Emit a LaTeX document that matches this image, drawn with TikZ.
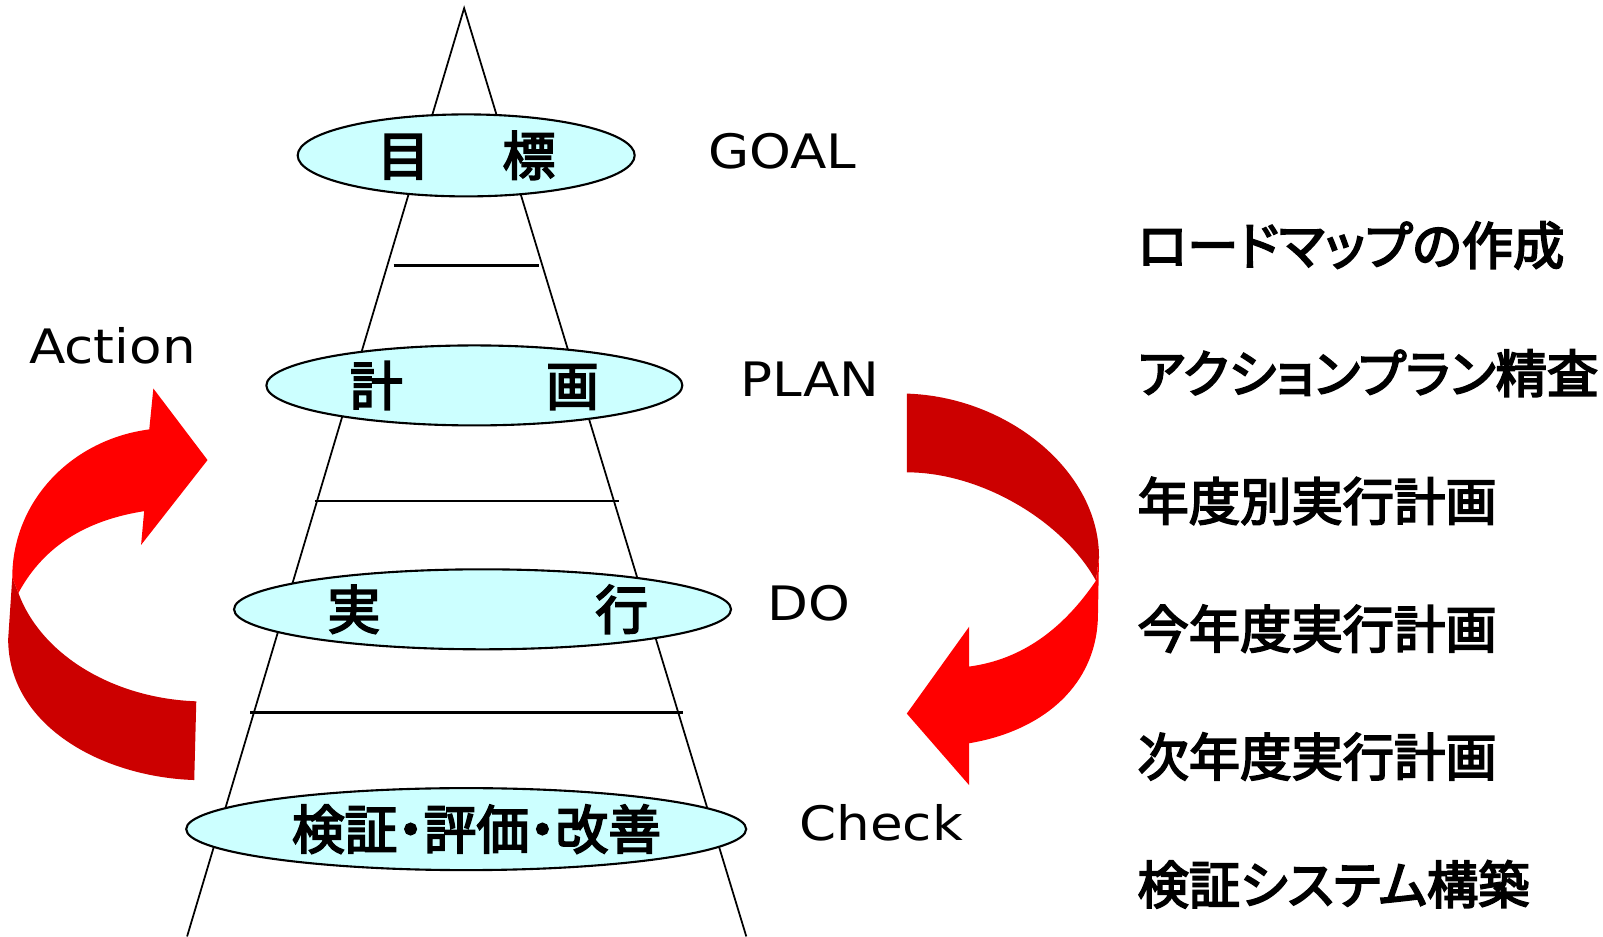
\documentclass[tikz,border=0pt]{standalone}
\usepackage{fontspec}
\newfontfamily\jpfont{Noto Sans CJK JP}[RawFeature=+palt, FakeBold=3.5]
\newfontfamily\pdcafont{DejaVu Sans}[FakeStretch=1.12]
\usetikzlibrary{shapes.geometric}
\definecolor{stagecyan}{RGB}{204,255,255}
\definecolor{cyclered}{RGB}{255,0,0}
\definecolor{cycledark}{RGB}{204,0,0}

\begin{document}
\begin{tikzpicture}[x=0.01022cm, y=-0.01022cm,
  stage/.style={ellipse, draw, line width=0.6pt, fill=stagecyan, inner sep=0pt,
    font=\fontsize{15}{17}\selectfont\jpfont},
  pdca/.style={font=\fontsize{13.5}{15}\selectfont\pdcafont},
  step item/.style={anchor=west, inner sep=0pt, font=\fontsize{14.6}{16}\selectfont\jpfont}]
\useasboundingbox (0,0) rectangle (1568,916);

\coordinate (apex) at (454,8);
\coordinate (baseL) at (183,916);
\coordinate (baseR) at (730,916);
\draw [line width=0.5pt] (baseL) -- (apex) -- (baseR);
\draw [line width=0.8pt] (385,260) -- (527,260);
\draw [line width=0.8pt] (308,490) -- (605,490);
\draw [line width=0.8pt] (245,697) -- (668,697);

\node [stage, minimum width=3.37cm, minimum height=0.82cm] (goal) at (456,152) {目\hspace{1.38em}標\hspace{0.37em}};
\node [stage, minimum width=4.16cm, minimum height=0.80cm] (plan) at (464,377) {計\hspace{2.72em}画};
\node [stage, minimum width=4.97cm, minimum height=0.80cm] (do) at (472,596) {\hspace{0.2em}実\hspace{4.08em}行};
\node [stage, minimum width=5.60cm, minimum height=0.82cm] (check) at (456,811) {\hspace{0.39em}検証・評価・改善};

\node [pdca] (goaltext) at (765,148) {GOAL};
\node [pdca] (plantext) at (792,371) {PLAN};
\node [pdca] (dotext) at (791,590) {DO};
\node [pdca] (checktext) at (862,805) {Check};
\node [pdca] (actiontext) at (110,338) {Action};

\fill [cycledark] (12,565) -- (8,625) .. controls (8,710) and (100,760) .. (190,763)
  -- (192,686) .. controls (110,683) and (40,640) .. (18,580) -- cycle;
\fill [cyclered] (18,580) .. controls (45,530) and (90,508) .. (141,500) -- (138,533)
  -- (203,450) -- (150,380) -- (146,420) .. controls (70,430) and (12,490) .. (12,565) -- cycle;

\fill [cycledark] (887,385) .. controls (985,388) and (1075,460) .. (1075,545)
  -- (1072,568) .. controls (1040,510) and (960,462) .. (887,462) -- cycle;
\fill [cyclered] (1072,568) .. controls (1040,615) and (1000,645) .. (948,652) -- (948,613)
  -- (887,698) -- (948,768) -- (948,727) .. controls (1020,715) and (1074,670) .. (1074,600)
  -- (1075,545) -- cycle;

\node [step item] (roadmap) at (1112,240) {ロードマップの作成};
\node [step item] (review) at (1112,365) {アクションプラン精査};
\node [step item] (yearly) at (1112,490) {年度別実行計画};
\node [step item] (thisyear) at (1112,615) {今年度実行計画};
\node [step item] (nextyear) at (1112,740) {次年度実行計画};
\node [step item] (system) at (1112,865) {検証システム構築};
\end{tikzpicture}
\end{document}
